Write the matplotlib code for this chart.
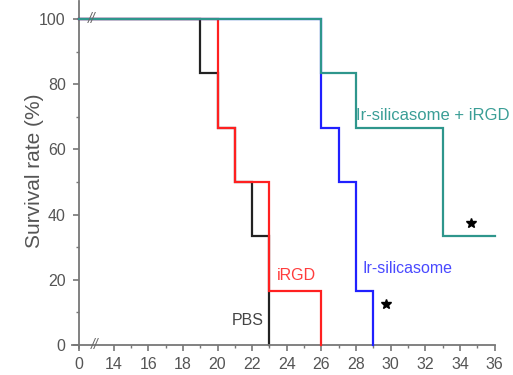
import matplotlib
matplotlib.use("Agg")
import matplotlib.pyplot as plt
from matplotlib.ticker import FixedLocator

plt.rcParams['font.family'] = ['Liberation Sans', 'DejaVu Sans']

# ---- data (days, survival %) ----
pbs_days = [0, 19, 20, 21, 22, 23]
pbs_surv = [100, 83.3, 66.7, 50, 33.3, 0]
irgd_days = [0, 20, 21, 23, 26]
irgd_surv = [100, 66.7, 50, 16.7, 0]
irsil_days = [0, 26, 27, 28, 29]
irsil_surv = [100, 66.7, 50, 16.7, 0]
combo_days = [0, 26, 28, 33, 36]
combo_surv = [100, 83.3, 66.7, 33.3, 33.3]

x_ticks_days = [0, 14, 16, 18, 20, 22, 24, 26, 28, 30, 32, 34, 36]
y_ticks = [0, 20, 40, 60, 80, 100]
star_points = [(29.7, 12.5), (34.65, 37.5)]

BREAK_POS = 12  # axis position where day 0 is drawn (broken axis)


def xmap(d):
    return BREAK_POS if d == 0 else d


colors = {
    'pbs': '#222222',
    'irgd': '#ff2020',
    'irsil': '#2020ff',
    'combo': '#2e968c',
}

fig = plt.figure(figsize=(5.13, 3.75), dpi=100)
ax = fig.add_axes([0.137, 0.0712, 0.8374, 0.926])

lw = 1.6
series = [
    (pbs_days, pbs_surv, colors['pbs'], 2),
    (irgd_days, irgd_surv, colors['irgd'], 3),
    (irsil_days, irsil_surv, colors['irsil'], 4),
    (combo_days, combo_surv, colors['combo'], 5),
]
for days, surv, c, z in series:
    ax.step([xmap(d) for d in days], surv, where='post', color=c, lw=lw,
            zorder=z, solid_joinstyle='miter')

# stars
for sx, sy in star_points:
    ax.plot(sx, sy, marker='*', color='black', markersize=7.5, zorder=6, linestyle='none')

# labels
ax.text(20.8, 7.6, 'PBS', color='#444444', fontsize=11.5, va='center', ha='left', zorder=7)
ax.text(23.4, 21.3, 'iRGD', color='#ff3c3c', fontsize=11.5, va='center', ha='left', zorder=7)
ax.text(28.35, 23.5, 'Ir-silicasome', color='#4a4aff', fontsize=11.5, va='center', ha='left', zorder=7)
ax.text(28.0, 70.3, 'Ir-silicasome + iRGD', color='#3a9e96', fontsize=12, va='center', ha='left', zorder=7)

# axis break marks
ax.text(12.75, 100, '//', color='#666666', fontsize=10, ha='center', va='center',
        style='italic', zorder=8)
ax.text(12.9, 0, '//', color='#666666', fontsize=10, ha='center', va='center',
        style='italic', zorder=8)

ax.set_xlim(11.5, 36.3)
ax.set_ylim(-1, 105.5)

for s in ['top', 'right']:
    ax.spines[s].set_visible(False)
ax.spines['left'].set_position(('data', BREAK_POS))
ax.spines['bottom'].set_position(('data', 0))
ax.spines['bottom'].set_bounds(11.6, 36)
ax.spines['left'].set_bounds(-1, 105.5)
for s in ['left', 'bottom']:
    ax.spines[s].set_color('#777777')
    ax.spines[s].set_linewidth(1.3)

ax.set_xticks([xmap(d) for d in x_ticks_days])
ax.set_xticklabels([str(d) for d in x_ticks_days])
ax.xaxis.set_minor_locator(FixedLocator(list(range(15, 36, 2))))
ax.set_yticks(y_ticks)
ax.set_yticklabels([str(v) for v in y_ticks])
ax.yaxis.set_minor_locator(FixedLocator([10, 30, 50, 70, 90]))

ax.tick_params(axis='both', which='major', direction='out', length=4.5, width=1.2,
               color='#777777', labelcolor='#555555', labelsize=11.5)
ax.tick_params(axis='both', which='minor', direction='out', length=2.5, width=1.0,
               color='#777777')
ax.tick_params(axis='y', which='major', pad=5)
ax.tick_params(axis='x', which='major', pad=4)

ax.set_ylabel('Survival rate (%)', fontsize=15, color='#555555')
ax.yaxis.set_label_coords(-0.062, 0.51)

fig.savefig('out.png', dpi=100)
